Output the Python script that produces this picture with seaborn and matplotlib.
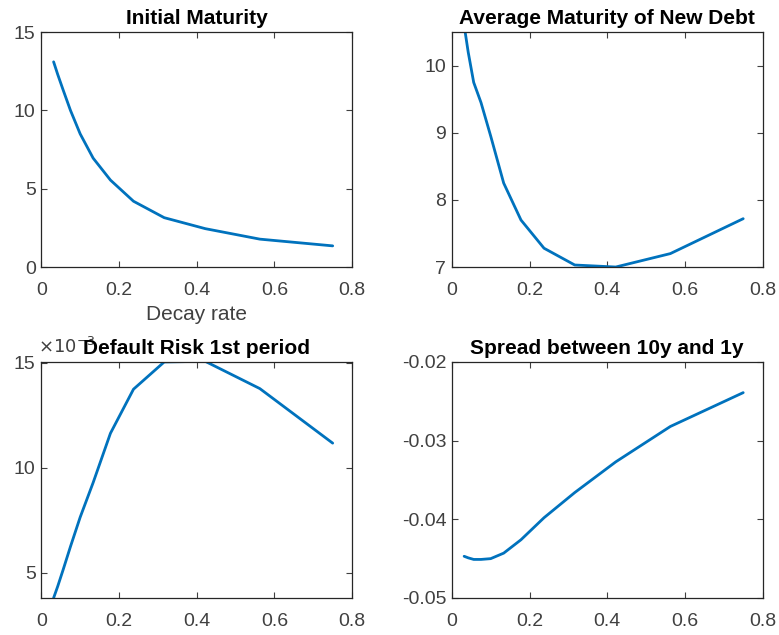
import numpy as np
import pandas as pd
import matplotlib
matplotlib.use("Agg")
import matplotlib.pyplot as plt
import seaborn as sns

# decay rate grid
decay = [0.0317, 0.0422, 0.0563, 0.0751, 0.1001, 0.1335, 0.1780, 0.2373, 0.3164, 0.4219, 0.5625, 0.75]

initial_maturity = [13.1, 12.3, 11.3, 10.0, 8.5, 6.95, 5.55, 4.2, 3.15, 2.45, 1.78, 1.35]
avg_maturity_new = [10.6, 10.2, 9.75, 9.45, 8.95, 8.25, 7.7, 7.28, 7.03, 7.0, 7.2, 7.72]
default_risk = [3.8, 4.35, 5.15, 6.25, 7.65, 9.3, 11.65, 13.75, 15.05, 15.08, 13.78, 11.18]
spread_10y_1y = [-0.0447, -0.0449, -0.0451, -0.0451, -0.0450, -0.0443, -0.0426, -0.0398, -0.0366, -0.0327, -0.0282, -0.0239]

sns.set_style("ticks")
plt.rcParams['font.family'] = ['Liberation Sans', 'DejaVu Sans']

blue = "#0072BD"
grey = "#404040"

fig = plt.figure(figsize=(7.79, 6.35), dpi=100)
ax1 = fig.add_axes([0.053, 0.5795, 0.399, 0.370])
ax2 = fig.add_axes([0.580, 0.5795, 0.399, 0.370])
ax3 = fig.add_axes([0.053, 0.0583, 0.399, 0.3717])
ax4 = fig.add_axes([0.580, 0.0583, 0.399, 0.3717])

df = pd.DataFrame({"decay": decay, "init": initial_maturity, "avg": avg_maturity_new,
                   "risk": default_risk, "spread": spread_10y_1y})

panels = [
    (ax1, "init", "Initial Maturity", (0, 15), [0, 5, 10, 15], ["0", "5", "10", "15"]),
    (ax2, "avg", "Average Maturity of New Debt", (7, 10.5), [7, 8, 9, 10], ["7", "8", "9", "10"]),
    (ax3, "risk", "Default Risk 1st period", (3.8, 15.05), [5, 10, 15], ["5", "10", "15"]),
    (ax4, "spread", "Spread between 10y and 1y", (-0.05, -0.02), [-0.05, -0.04, -0.03, -0.02],
     ["-0.05", "-0.04", "-0.03", "-0.02"]),
]

for ax, col, title, ylim, yt, ytl in panels:
    sns.lineplot(data=df, x="decay", y=col, ax=ax, color=blue, linewidth=2.0)
    ax.set_xlim(0, 0.8)
    ax.set_ylim(*ylim)
    ax.set_xticks([0, 0.2, 0.4, 0.6, 0.8])
    ax.set_xticklabels(["0", "0.2", "0.4", "0.6", "0.8"])
    ax.set_yticks(yt)
    ax.set_yticklabels(ytl)
    ax.set_xlabel("")
    ax.set_ylabel("")
    ax.set_title(title, fontsize=15, fontweight="bold", color="black", pad=6)
    ax.tick_params(direction="in", length=4, width=0.8, colors=grey, labelsize=14,
                   top=True, right=True)
    ax.tick_params(axis="x", pad=11)
    ax.tick_params(axis="y", pad=4)
    for s in ax.spines.values():
        s.set_visible(True)
        s.set_color("#262626")
        s.set_linewidth(0.9)

ax1.set_xlabel("Decay rate", fontsize=15, color=grey, labelpad=4)

# exponent label on the default-risk panel (the title partly covers it, as in the original)
ax3.text(-0.01, 1.02, r"$\times10^{-3}$", transform=ax3.transAxes, fontsize=13,
         color=grey, ha="left", va="bottom", zorder=0, fontfamily="DejaVu Sans")
ax3.title.set_zorder(5)

fig.savefig("out.png", dpi=100, facecolor="white")
